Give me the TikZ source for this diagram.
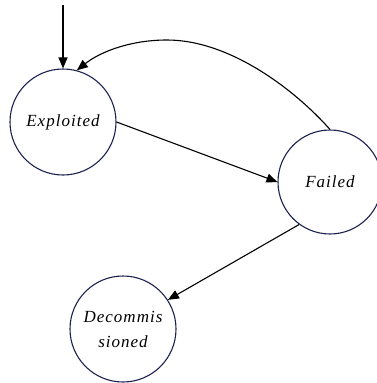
\documentclass[tikz,border=0pt]{standalone}
\usepackage{fontspec}
\setmainfont{Liberation Serif}[LetterSpace=6]
\usetikzlibrary{arrows.meta}
\definecolor{ringcol}{HTML}{1C2150}
\tikzset{
  state/.style={circle, draw=ringcol, line width=1.1pt, minimum size=106pt,
    inner sep=0pt, align=center, font=\fontsize{17}{25}\selectfont\itshape},
  trans/.style={-{Triangle[length=11pt,width=9pt]}, line width=1.1pt, black}
}
\begin{document}
\begin{tikzpicture}[x=1pt,y=-1pt]
  \useasboundingbox (0,0) rectangle (377,383);
  \node[state] (e) at (63,122) {Exploited};
  \node[state, minimum size=104pt] (f) at (330,182) {Failed};
  \node[state] (d) at (123,329) {Decommis\\sioned};
  \coordinate (start) at (63,5);
  \coordinate (apex) at (167,40);
  \draw[trans] (start) -- (e.north);
  \draw[trans] (e.0) -- (f.180);
  \draw[trans] (f.234) -- (d.33);
  % return arc, rising steeply from Failed and easing down onto Exploited
  \draw[trans] (f.90) .. controls (295,90) and (230,40) .. (apex)
                      .. controls (130,40) and (100,52) .. (e.75);
\end{tikzpicture}
\end{document}
